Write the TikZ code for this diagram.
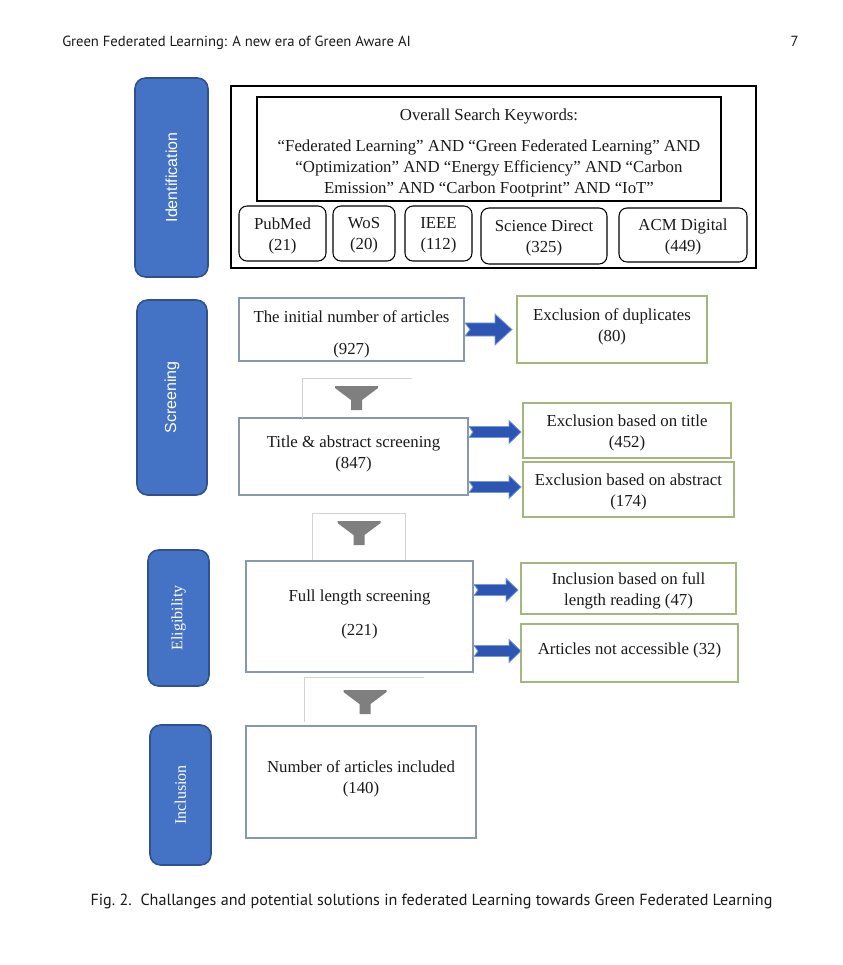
\documentclass[tikz,border=0pt]{standalone}
\usepackage{fontspec}
\setmainfont{Liberation Serif}
\newfontfamily\hdrfont{PT Sans}
\newfontfamily\lsans{Liberation Sans}
\usetikzlibrary{calc}
\definecolor{stageblue}{HTML}{4472C4}
\definecolor{stageedge}{HTML}{2F528F}
\definecolor{arrowfill}{HTML}{2D56B4}
\definecolor{arrowedge}{HTML}{7A98D6}
\definecolor{scrEdge}{HTML}{8A98AE}
\definecolor{exEdge}{HTML}{A4B87E}
\definecolor{funnelGray}{HTML}{7F7F7F}
\definecolor{funnelLine}{HTML}{D3D3D3}
\definecolor{txt}{HTML}{1A1A1A}
\newcommand{\boxat}[6]{\node[#6, minimum width={(#4-#2)*0.75pt}, minimum height={(#5-#3)*0.75pt}] (#1) at ({(#2+#4)/2},{(#3+#5)/2})}
% start, end, body half, head half, head length, notch
\newcommand{\blockarrow}[6]{\path[blockarr] let \p1=(#1), \p2=(#2) in
  (\x1,\y1+#3) -- (\x2-#5,\y1+#3) -- (\x2-#5,\y1+#4) -- (\x2,\y1) -- (\x2-#5,\y1-#4)
  -- (\x2-#5,\y1-#3) -- (\x1,\y1-#3) -- (\x1+#6,\y1) -- cycle;}
\tikzset{
  anybox/.style={rectangle, inner sep=0pt, outer sep=0pt},
  boxtext/.style={inner sep=0pt, align=center, text=txt, font=\fontsize{12.6}{15.75}\selectfont},
  idbox/.style={anybox, draw=black, line width=0.8pt},
  kwbox/.style={anybox, draw=black, line width=1pt},
  dbbox/.style={anybox, draw=black, line width=0.8pt, rounded corners=6pt},
  scrbox/.style={anybox, draw=scrEdge, line width=0.9pt},
  exbox/.style={anybox, draw=exEdge, line width=0.9pt},
  stagebox/.style={rectangle, rounded corners=8pt, fill=stageblue, draw=stageedge,
    line width=1.2pt, inner sep=0pt, text=white, font=\fontsize{12}{14}\selectfont},
  blockarr/.style={fill=arrowfill, draw=arrowedge, line width=0.6pt, line join=miter},
  funnelline/.style={draw=funnelLine, line width=0.6pt},
  funnel/.pic={\fill[funnelGray] (-21.5,0) -- (21.5,0) -- (21.5,2) -- (5.5,14) -- (5.5,24)
     -- (-5.5,24) -- (-5.5,14) -- (-21.5,2) -- cycle;},
  hdr/.style={inner sep=0pt, text=txt, font=\hdrfont\fontsize{11}{13}\selectfont},
  captext/.style={inner sep=0pt, text=txt, font=\hdrfont\fontsize{12.1}{14}\selectfont}
}
\begin{document}
\begin{tikzpicture}[x=0.75pt,y=-0.75pt]
\useasboundingbox (0,0) rectangle (843,965);
\fill[white] (0,0) rectangle (843,965);

% header and caption
\node[hdr, anchor=base west] (head) at (62,46) {Green Federated Learning: A new era of Green Aware AI};
\node[hdr, anchor=base east] (pageno) at (799,46) {7};
\node[captext, anchor=base] (caption) at (431.5,905) {Fig.~2.\ \ Challanges and potential solutions in federated Learning towards Green Federated Learning};

% stage boxes
\boxat{sid}{135}{78}{208}{277}{stagebox} {\rotatebox{90}{\lsans Identification}};
\boxat{sscr}{137}{300}{207}{495}{stagebox} {\rotatebox{90}{\lsans Screening}};
\boxat{selig}{148}{550}{209}{686}{stagebox} {\rotatebox{90}{Eligibility}};
\boxat{sincl}{150}{725}{211}{865}{stagebox} {\rotatebox{90}{Inclusion}};

% identification
\boxat{idouter}{231}{86}{756}{268}{idbox} {};
\boxat{kw}{257}{97}{721}{201}{kwbox} {};
\node[boxtext] (kwt) at ($(kw.center)+(0,4)$) {Overall Search Keywords:\\[7.5pt]
“Federated Learning” AND “Green Federated Learning” AND\\
“Optimization” AND “Energy Efficiency” AND “Carbon\\
Emission” AND “Carbon Footprint” AND “IoT”};
\boxat{pubmed}{239}{206}{326}{261}{dbbox} {};
\node[boxtext] (pubmedt) at ($(pubmed.center)+(0,2)$) {PubMed\\(21)};
\boxat{wos}{333}{206}{395}{261}{dbbox} {};
\node[boxtext] (wost) at ($(wos.center)+(0,2)$) {WoS\\(20)};
\boxat{ieee}{405}{206}{472}{261}{dbbox} {};
\node[boxtext] (ieeet) at ($(ieee.center)+(0,2)$) {IEEE\\(112)};
\boxat{sd}{481}{208}{607}{264}{dbbox} {};
\node[boxtext] (sdt) at ($(sd.center)+(0,2)$) {Science Direct\\(325)};
\boxat{acm}{619}{208}{747}{262}{dbbox} {};
\node[boxtext] (acmt) at ($(acm.center)+(0,2)$) {ACM Digital\\(449)};

% screening
\boxat{initial}{239}{298}{464}{361}{scrbox} {};
\node[boxtext] (initialt) at ($(initial.center)+(0,5)$) {The initial number of articles\\[8.25pt](927)};
\boxat{exdup}{517}{296}{707}{363}{exbox} {};
\node[boxtext] (exdupt) at ($(exdup.center)+(0,-3)$) {Exclusion of duplicates\\(80)};
\boxat{title}{239}{418}{468}{495}{scrbox} {};
\node[boxtext] (titlet) at ($(title.center)+(0,-3)$) {Title \& abstract screening\\(847)};
\boxat{extitle}{523}{403}{731}{458}{exbox} {};
\node[boxtext] (extitlet) at ($(extitle.center)+(0,2)$) {Exclusion based on title\\(452)};
\boxat{exabs}{523}{462}{734}{517}{exbox} {};
\node[boxtext] (exabst) at ($(exabs.center)+(0,2.5)$) {Exclusion based on abstract\\(174)};

% eligibility
\boxat{full}{246}{561}{473}{672}{scrbox} {};
\node[boxtext] (fullt) at ($(full.center)+(0,-2.5)$) {Full length screening\\[9.75pt](221)};
\boxat{incl47}{521}{563}{736}{614}{exbox} {};
\node[boxtext] (incl47t) at ($(incl47.center)+(0,2)$) {Inclusion based on full\\length reading (47)};
\boxat{notacc}{521}{624}{738}{682}{exbox} {};
\node[boxtext] (notacct) at ($(notacc.center)+(0,-3)$) {Articles not accessible (32)};

% inclusion
\boxat{included}{246}{726}{476}{838}{scrbox} {};
\node[boxtext] (includedt) at ($(included.center)+(0,-3.5)$) {Number of articles included\\(140)};

% block arrows
\coordinate (a1s) at ($(initial.east |- exdup.west)+(1,0)$);
\coordinate (a1e) at ($(exdup.west)+(-5,0)$);
\blockarrow{a1s}{a1e}{4.9pt}{11.6pt}{12.75pt}{3.75pt}
\coordinate (a2s) at ($(title.east |- extitle.west)+(1,1.5)$);
\coordinate (a2e) at ($(extitle.west)+(-2,1.5)$);
\blockarrow{a2s}{a2e}{4.1pt}{8.6pt}{9pt}{3pt}
\coordinate (a3s) at ($(title.east |- exabs.west)+(1,-2.5)$);
\coordinate (a3e) at ($(exabs.west)+(-2,-2.5)$);
\blockarrow{a3s}{a3e}{4.1pt}{8.6pt}{9pt}{3pt}
\coordinate (a4s) at ($(full.east |- incl47.west)+(1,1.5)$);
\coordinate (a4e) at ($(incl47.west)+(-3,1.5)$);
\blockarrow{a4s}{a4e}{4.1pt}{8.6pt}{9pt}{3pt}
\coordinate (a5s) at ($(full.east |- notacc.west)+(1,-2)$);
\coordinate (a5e) at ($(notacc.west)+(0,-2)$);
\blockarrow{a5s}{a5e}{4.1pt}{8.6pt}{9pt}{3pt}

% funnels
\draw[funnelline] (302,418) |- (412,378);
\pic (f1) at (356.5,386) {funnel};
\draw[funnelline] (312,560) |- (405,513) -- (405,560);
\pic (f2) at (359,521) {funnel};
\draw[funnelline] (304,722) |- (424,677);
\pic (f3) at (365,690) {funnel};
\end{tikzpicture}
\end{document}
